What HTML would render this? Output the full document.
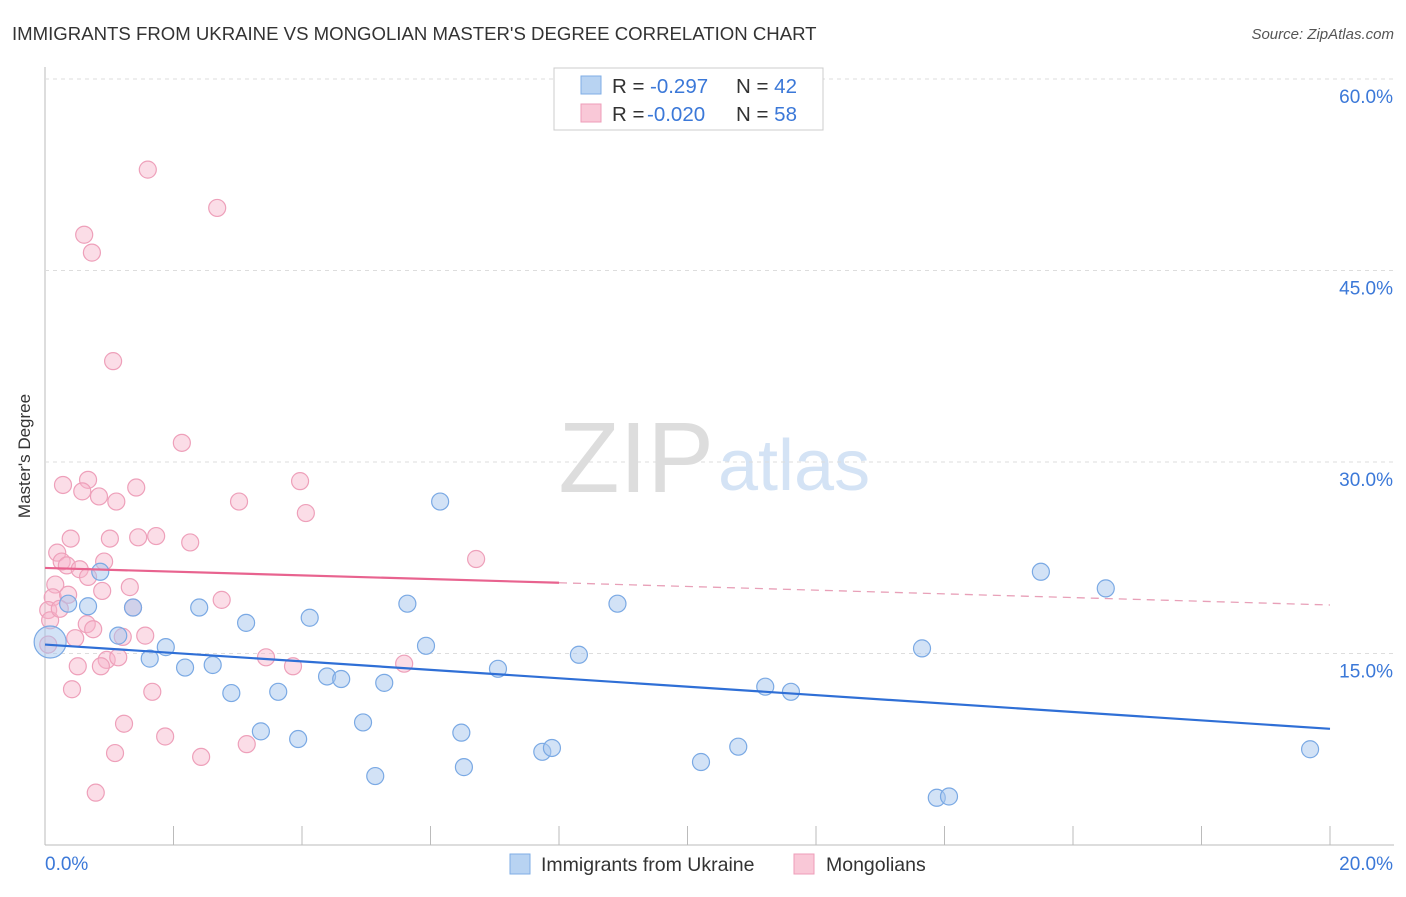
<!DOCTYPE html>
<html><head><meta charset="utf-8"><style>
body{margin:0;background:#fff;font-family:"Liberation Sans",sans-serif;}
svg text{font-family:"Liberation Sans",sans-serif;}
</style></head><body>
<svg id="c" width="1406" height="892">
<text x="12" y="40" font-size="18.6" fill="#333">IMMIGRANTS FROM UKRAINE VS MONGOLIAN MASTER'S DEGREE CORRELATION CHART</text>
<text x="1394" y="39" font-size="15" fill="#555" text-anchor="end" font-style="italic">Source: ZipAtlas.com</text>
<text x="30" y="456" font-size="17" fill="#333" text-anchor="middle" transform="rotate(-90 30 456)">Master's Degree</text>
<text x="714" y="492" font-size="100" fill="#ddd" text-anchor="end" font-family="Liberation Serif">ZIP</text>
<text x="718" y="490" font-size="72" fill="#d4e3f5">atlas</text>
<g id="grid"></g><g id="pts"></g><g id="lines"></g>
<g>
<rect x="554" y="68" width="269" height="62" fill="#fff" stroke="#ccc"/>
<rect x="581" y="76" width="20" height="18" fill="#b8d3f2" stroke="#7faee6"/>
<rect x="581" y="104" width="20" height="18" fill="#f9c8d7" stroke="#ee9db8"/>
<text x="612" y="93" font-size="20.5" fill="#333">R = <tspan x="650" fill="#3b78d8">-0.297</tspan><tspan x="736">N = </tspan><tspan fill="#3b78d8">42</tspan></text>
<text x="612" y="121" font-size="20.5" fill="#333">R = <tspan x="647" fill="#3b78d8">-0.020</tspan><tspan x="736">N = </tspan><tspan fill="#3b78d8">58</tspan></text>
</g>
<g>
<rect x="510" y="854" width="20" height="20" fill="#b8d3f2" stroke="#7faee6"/>
<text x="541" y="871" font-size="19.5" fill="#333">Immigrants from Ukraine</text>
<rect x="794" y="854" width="20" height="20" fill="#f9c8d7" stroke="#ee9db8"/>
<text x="826" y="871" font-size="19.5" fill="#333">Mongolians</text>
</g>
</svg>
<script>
const yTicks=[15,30,45,60];
const yTickLabels=["15.0%","30.0%","45.0%","60.0%"];
const xTicks=[0,2,4,6,8,10,12,14,16,18,20];
const blueX=[0.08,0.36,0.67,0.86,1.14,1.37,1.63,1.88,2.18,2.4,2.61,2.9,3.13,3.36,3.63,3.94,4.12,4.39,4.61,4.95,5.14,5.28,5.64,5.93,6.15,6.48,6.52,7.05,7.74,7.89,8.31,8.91,10.21,10.79,11.21,11.61,13.65,13.88,14.07,15.5,16.51,19.69];
const blueY=[15.9,18.9,18.7,21.4,16.4,18.6,14.6,15.5,13.9,18.6,14.1,11.9,17.4,8.9,12.0,8.3,17.8,13.2,13.0,9.6,5.4,12.7,18.9,15.6,26.9,8.8,6.1,13.8,7.3,7.6,14.9,18.9,6.5,7.7,12.4,12.0,15.4,3.7,3.8,21.4,20.1,7.5];
const pinkX=[1.6,2.68,0.61,0.73,1.06,2.13,0.28,0.67,0.58,0.84,1.11,1.42,3.02,3.97,4.06,0.4,1.01,1.45,1.73,2.26,0.19,0.26,0.34,0.54,0.92,6.71,0.67,0.16,1.32,0.89,0.12,0.36,2.75,0.05,1.37,0.65,0.75,1.56,1.21,0.47,0.05,0.96,1.14,3.44,0.87,3.86,5.59,0.51,0.42,1.67,1.23,1.87,3.14,1.09,2.43,0.79,0.08,0.23];
const pinkY=[52.9,49.9,47.8,46.4,37.9,31.5,28.2,28.6,27.7,27.3,26.9,28.0,26.9,28.5,26.0,24.0,24.0,24.1,24.2,23.7,22.9,22.2,21.9,21.6,22.2,22.4,21.0,20.4,20.2,19.9,19.4,19.6,19.2,18.4,18.6,17.3,16.9,16.4,16.3,16.2,15.7,14.5,14.7,14.7,14.0,14.0,14.2,14.0,12.2,12.0,9.5,8.5,7.9,7.2,6.9,4.1,17.6,18.5];
const blueFit=[15.7,9.1], pinkFit=[21.7,18.8];
const X=v=>45+v*64.25, Y=v=>845-v*12.767;
const NS='http://www.w3.org/2000/svg';
function mk(t,a,p){const e=document.createElementNS(NS,t);for(const k in a)e.setAttribute(k,a[k]);p.appendChild(e);return e;}
const g=document.getElementById('grid');
let ax=mk('line',{x1:45,y1:67,x2:45,y2:845,stroke:'#bbb'},g);

let bx=mk('line',{x1:45,y1:845,x2:1394,y2:845,stroke:'#bbb'},g);

yTicks.forEach((t,i)=>{
 let l=mk('line',{x1:45,y1:Y(t),x2:1394,y2:Y(t),stroke:'#ddd','stroke-dasharray':'4,4'},g);
 
 let tx=mk('text',{x:1393,y:Y(t)+24,'font-size':19,fill:'#3b78d8','text-anchor':'end'},g);
 tx.textContent=yTickLabels[i];
 
});
xTicks.forEach(t=>{
 let l=mk('line',{x1:X(t),y1:826,x2:X(t),y2:845,stroke:'#bbb'},g);
 
});
let x0=mk('text',{x:45,y:870,'font-size':19,fill:'#3b78d8'},g);x0.textContent='0.0%';

let x1=mk('text',{x:1393,y:870,'font-size':19,fill:'#3b78d8','text-anchor':'end'},g);x1.textContent='20.0%';

const p=document.getElementById('pts');
pinkX.forEach((v,i)=>{
 let c=mk('circle',{cx:X(v),cy:Y(pinkY[i]),r:8.5,fill:'rgba(246,180,201,0.45)',stroke:'#eea0ba','stroke-width':1.2},p);
 
});
blueX.forEach((v,i)=>{
 let c=mk('circle',{cx:X(v),cy:Y(blueY[i]),r:i==0?16:8.5,fill:'rgba(165,197,238,0.5)',stroke:'#7aa9e4','stroke-width':1.2},p);
 
});
const L=document.getElementById('lines');
let bl=mk('line',{x1:X(0),y1:Y(blueFit[0]),x2:X(20),y2:Y(blueFit[1]),stroke:'#2f6fd6','stroke-width':2.2},L);

const pm=pinkFit[0]+(pinkFit[1]-pinkFit[0])*0.4;
let pl=mk('line',{x1:X(0),y1:Y(pinkFit[0]),x2:X(8),y2:Y(pm),stroke:'#e8638f','stroke-width':2.2},L);

let pd=mk('line',{x1:X(8),y1:Y(pm),x2:X(20),y2:Y(pinkFit[1]),stroke:'#e8a0b8','stroke-width':1.3,'stroke-dasharray':'8,6'},L);

</script>
</body></html>
